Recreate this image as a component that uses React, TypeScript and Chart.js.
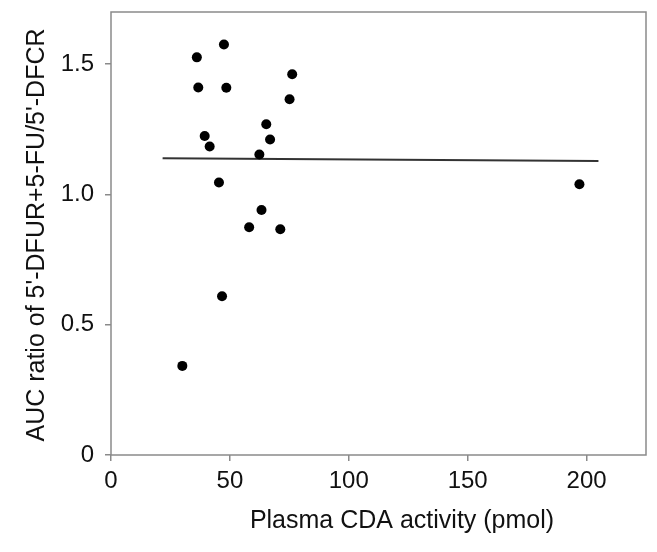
import React, { useEffect, useRef } from 'react';
import { Chart, registerables } from 'chart.js';

Chart.register(...registerables);

// Scatter data: plasma CDA activity (pmol) vs AUC ratio
const cdaActivity = [47.5, 36.1, 36.7, 48.5, 76.2, 75.1, 65.3, 39.4, 66.9, 41.5, 62.4, 45.4, 197.0, 63.3, 58.1, 71.2, 46.7, 30.0];
const aucRatio = [1.575, 1.526, 1.41, 1.409, 1.461, 1.365, 1.269, 1.224, 1.211, 1.184, 1.153, 1.046, 1.039, 0.94, 0.874, 0.866, 0.609, 0.342];

// Regression line end points
const fitX = [21.7, 205.0];
const fitY = [1.139, 1.128];

const xTicks = [0, 50, 100, 150, 200];
const yTicks = [0, 0.5, 1.0, 1.5];
const xRange = [0, 225];
const yRange = [0, 1.7];

const xTitle = 'Plasma CDA activity (pmol)';
const yTitle = "AUC ratio of 5'-DFUR+5-FU/5'-DFCR";

const FONT = '"Liberation Sans", Arial, Helvetica, sans-serif';

export default function App() {
  const ref = useRef<HTMLCanvasElement | null>(null);

  useEffect(() => {
    if (!ref.current) return;
    const boxPlugin = {
      id: 'boxAndTitles',
      afterDraw(chart: any) {
        const { ctx, chartArea } = chart;
        ctx.save();
        ctx.strokeStyle = '#8a8a8a';
        ctx.lineWidth = 1.5;
        ctx.strokeRect(chartArea.left, chartArea.top, chartArea.right - chartArea.left, chartArea.bottom - chartArea.top);
        ctx.fillStyle = '#111';
        ctx.font = `25px ${FONT}`;
        ctx.textAlign = 'center';
        ctx.textBaseline = 'alphabetic';
        ctx.fillText(xTitle, 402, 528);
        ctx.translate(44, 235);
        ctx.rotate(-Math.PI / 2);
        ctx.fillText(yTitle, 0, 0);
        ctx.restore();
      },
    };

    const chart = new Chart(ref.current, {
      type: 'scatter',
      data: {
        datasets: [
          {
            label: 'points',
            data: cdaActivity.map((x, i) => ({ x, y: aucRatio[i] })),
            backgroundColor: '#000',
            borderColor: '#000',
            pointRadius: 5,
            pointBorderWidth: 0,
            showLine: false,
          },
          {
            label: 'fit',
            type: 'line',
            data: fitX.map((x, i) => ({ x, y: fitY[i] })),
            borderColor: '#333',
            borderWidth: 2,
            pointRadius: 0,
            fill: false,
          } as any,
        ],
      },
      options: {
        animation: false,
        responsive: false,
        layout: { padding: { top: 12, right: 11, left: 0, bottom: 0 } },
        plugins: {
          legend: { display: false },
          tooltip: { enabled: false },
        },
        scales: {
          x: {
            type: 'linear',
            min: xRange[0],
            max: xRange[1],
            afterFit: (s: any) => {
              s.height = 97;
              s.paddingLeft = 0;
              s.paddingRight = 0;
            },
            afterBuildTicks: (s: any) => {
              s.ticks = xTicks.map((v) => ({ value: v }));
            },
            grid: { drawOnChartArea: false, tickLength: 6, color: '#8a8a8a', lineWidth: 1.5 },
            border: { display: false },
            ticks: {
              color: '#111',
              font: { size: 24, family: FONT },
              padding: 6,
              maxRotation: 0,
              callback: (v: any) => String(v),
            },
          },
          y: {
            type: 'linear',
            min: yRange[0],
            max: yRange[1],
            afterFit: (s: any) => {
              s.width = 111;
              s.paddingTop = 0;
              s.paddingBottom = 0;
            },
            afterBuildTicks: (s: any) => {
              s.ticks = yTicks.map((v) => ({ value: v }));
            },
            grid: { drawOnChartArea: false, tickLength: 6, color: '#8a8a8a', lineWidth: 1.5 },
            border: { display: false },
            ticks: {
              color: '#111',
              font: { size: 24, family: FONT },
              padding: 11,
              callback: (v: any) => (v === 0 ? '0' : Number(v).toFixed(1)),
            },
          },
        },
      },
      plugins: [boxPlugin],
    });
    return () => chart.destroy();
  }, []);

  return (
    <div style={{ position: 'absolute', left: 0, top: 0, width: 657, height: 552, background: '#fff' }}>
      <canvas ref={ref} width={657} height={552} style={{ width: 657, height: 552, display: 'block' }} />
    </div>
  );
}
